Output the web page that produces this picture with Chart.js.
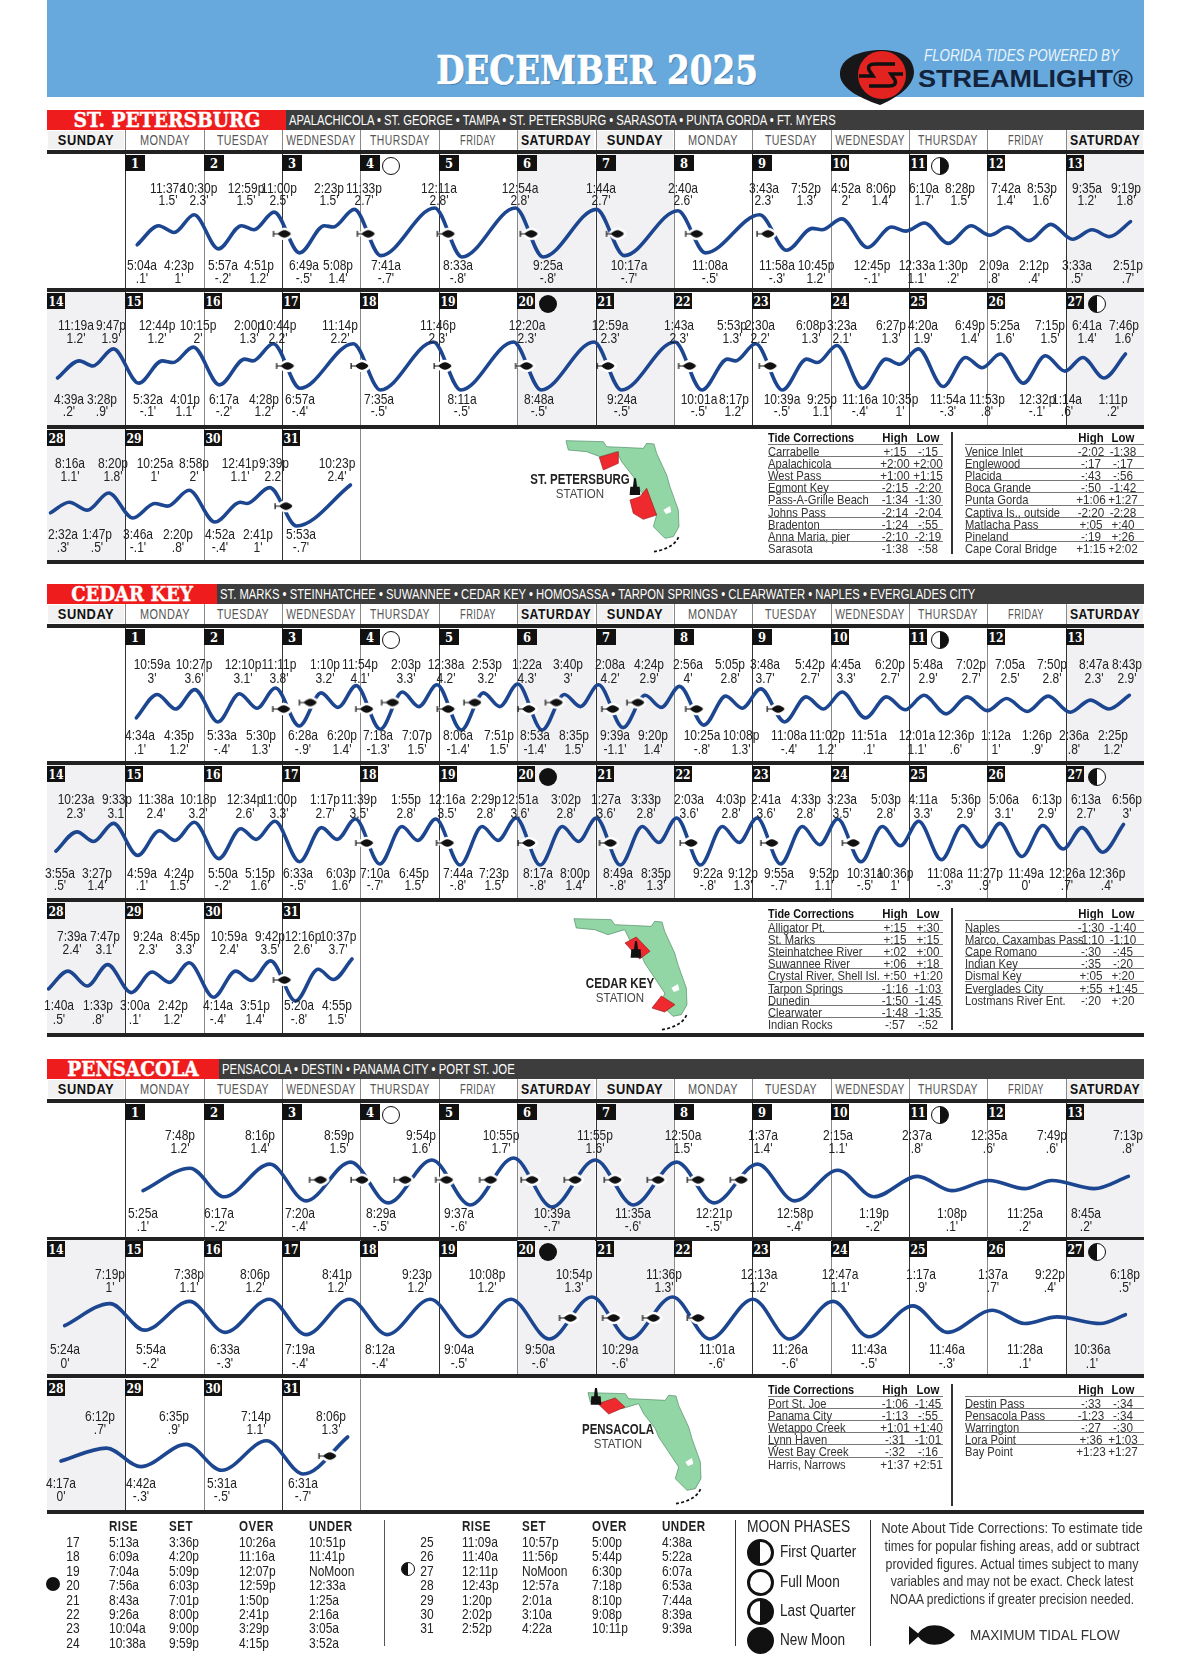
<!DOCTYPE html>
<html>
<head>
<meta charset="utf-8">
<title>Florida Tides December 2025</title>
<script src="https://cdn.jsdelivr.net/npm/chart.js@4/dist/chart.umd.min.js"></script>
<style>
html, body { margin: 0; padding: 0; background: #fff; }
#page { position: relative; width: 1200px; height: 1662px; overflow: hidden; background: #fff; }
#page div.t { position: absolute; white-space: nowrap; line-height: 1; color: #222; }
#page div.r { position: absolute; }
#page canvas { position: absolute; }
#page svg { position: absolute; left: 0; top: 0; }
</style>
</head>
<body>
<div id="page"></div>
<script>
// tide tables: day, time, height in feet
const stPeteDays = [1,1,1,1, 2,2,2,2, 3,3,3,3, 4, 5,5, 6,6, 7,7, 8,8, 9,9,9,9, 10,10,10, 11,11,11,11, 12,12,12,12, 13,13,13,13,
  14,14,14,14, 15,15,15,15, 16,16,16,16, 17,17, 18,18, 19, 20,20, 21,21, 22,22,22,22, 23,23,23,23, 24,24,24,24, 25,25,25,25, 26,26,26, 27,27,27,27,
  28,28,28,28, 29,29,29,29, 30,30,30,30, 31,31];
const stPeteTimes = ['5:04a','11:37a','4:23p','10:30p', '5:57a','12:59p','4:51p','11:00p', '6:49a','2:23p','5:08p','11:33p', '7:41a', '12:11a','8:33a', '12:54a','9:25a', '1:44a','10:17a', '2:40a','11:08a', '3:43a','11:58a','7:52p','10:45p', '4:52a','12:45p','8:06p', '12:33a','6:10a','1:30p','8:28p', '2:09a','7:42a','2:12p','8:53p', '3:33a','9:35a','2:51p','9:19p',
  '4:39a','11:19a','3:28p','9:47p', '5:32a','12:44p','4:01p','10:15p', '6:17a','2:00p','4:28p','10:44p', '6:57a','11:14p', '7:35a','11:46p', '8:11a', '12:20a','8:48a', '12:59a','9:24a', '1:43a','10:01a','5:53p','8:17p', '2:30a','10:39a','6:08p','9:25p', '3:23a','11:16a','6:27p','10:35p', '4:20a','11:54a','6:49p','11:53p', '5:25a','12:32p','7:15p', '1:14a','6:41a','1:11p','7:46p',
  '2:32a','8:16a','1:47p','8:20p', '3:46a','10:25a','2:20p','8:58p', '4:52a','12:41p','2:41p','9:39p', '5:53a','10:23p'];
const stPeteFeet = [.1,1.5,1,2.3, -.2,1.5,1.2,2.5, -.5,1.5,1.4,2.7, -.7, 2.8,-.8, 2.8,-.8, 2.7,-.7, 2.6,-.5, 2.3,-.3,1.3,1.2, 2,-.1,1.4, 1.1,1.7,.2,1.5, .8,1.4,.4,1.6, .5,1.2,.7,1.8,
  .2,1.2,.9,1.9, -.1,1.2,1.1,2, -.2,1.3,1.2,2.2, -.4,2.2, -.5,2.3, -.5, 2.3,-.5, 2.3,-.5, 2.3,-.5,1.3,1.2, 2.2,-.5,1.3,1.1, 2.1,-.4,1.3,1, 1.9,-.3,1.4,.8, 1.6,-.1,1.5, .6,1.4,.2,1.6,
  .3,1.1,.5,1.8, -.1,1,.8,2, -.4,1.1,1,2.2, -.7,2.4];
const stPeteFishDays = [3.03,4.1,5.12,6.18,7.28,8.29,9.2, 17.07,18.02,19.08,20.12,21.16,22.2,23.23, 31.05];
const stPeteFishFeet = [.9,.9,.9,.9,.9,.9,.9, .9,.9,.9,.9,.9,.9,.9, .8];

const cedarDays = [1,1,1,1, 2,2,2,2, 3,3,3,3, 4,4,4, 5,5,5,5, 6,6,6,6, 7,7,7,7, 8,8,8,8, 9,9,9,9, 10,10,10, 11,11,11,11, 12,12,12,12, 13,13,13,13,
  14,14,14,14, 15,15,15,15, 16,16,16,16, 17,17,17,17, 18,18,18, 19,19,19,19, 20,20,20,20, 21,21,21,21, 22,22,22,22, 23,23,23,23, 24,24,24,24, 25,25,25,25, 26,26,26, 27,27,27,27,
  28,28,28,28, 29,29,29,29, 30,30,30,30, 31,31,31,31];
const cedarTimes = ['4:34a','10:59a','4:35p','10:27p', '5:33a','12:10p','5:30p','11:11p', '6:28a','1:10p','6:20p','11:54p', '7:18a','2:03p','7:07p', '12:38a','8:06a','2:53p','7:51p', '1:22a','8:53a','3:40p','8:35p', '2:08a','9:39a','4:24p','9:20p', '2:56a','10:25a','5:05p','10:08p', '3:48a','11:08a','5:42p','11:02p', '4:45a','11:51a','6:20p', '12:01a','5:48a','12:36p','7:02p', '1:12a','7:05a','1:26p','7:50p', '2:36a','8:47a','2:25p','8:43p',
  '3:55a','10:23a','3:27p','9:33p', '4:59a','11:38a','4:24p','10:18p', '5:50a','12:34p','5:15p','11:00p', '6:33a','1:17p','6:03p','11:39p', '7:10a','1:55p','6:45p', '12:16a','7:44a','2:29p','7:23p', '12:51a','8:17a','3:02p','8:00p', '1:27a','8:49a','3:33p','8:35p', '2:03a','9:22a','4:03p','9:12p', '2:41a','9:55a','4:33p','9:52p', '3:23a','10:31a','5:03p','10:36p', '4:11a','11:08a','5:36p','11:27p', '5:06a','11:49a','6:13p', '12:26a','6:13a','12:36p','6:56p',
  '1:40a','7:39a','1:33p','7:47p', '3:00a','9:24a','2:42p','8:45p', '4:14a','10:59a','3:51p','9:42p', '5:20a','12:16p','4:55p','10:37p'];
const cedarFeet = [.1,3,1.2,3.6, -.4,3.1,1.3,3.8, -.9,3.2,1.4,4.1, -1.3,3.3,1.5, 4.2,-1.4,3.2,1.5, 4.3,-1.4,3,1.5, 4.2,-1.1,2.9,1.4, 4,-.8,2.8,1.3, 3.7,-.4,2.7,1.2, 3.3,.1,2.7, 1.1,2.9,.6,2.7, 1,2.5,.9,2.8, .8,2.3,1.2,2.9,
  .5,2.3,1.4,3.1, .1,2.4,1.5,3.2, -.2,2.6,1.6,3.3, -.5,2.7,1.6,3.5, -.7,2.8,1.5, 3.5,-.8,2.8,1.5, 3.6,-.8,2.8,1.4, 3.6,-.8,2.8,1.3, 3.6,-.8,2.8,1.3, 3.6,-.7,2.8,1.1, 3.5,-.5,2.8,1, 3.3,-.3,2.9,.9, 3.1,0,2.9, .7,2.7,.4,3,
  .5,2.4,.8,3.1, .1,2.3,1.2,3.3, -.4,2.4,1.4,3.5, -.8,2.6,1.5,3.7];
const cedarFishDays = [3.02,3.36,4.08,4.41,5.12,5.46,6.15,6.5,7.22,7.54,8.29,9.33, 18.08,19.11,20.15,21.19,22.22,23.25,24.29, 31.03];
const cedarFishFeet = [1.2,2,1.2,2,1.2,2,1.2,2,1.2,2,1.2,1.2, 1.26,1.26,1.26,1.26,1.26,1.26,1.26, 1.45];

const pensacolaDays = [1,1, 2,2, 3,3, 4,4, 5,5, 6,6, 7, 8,8, 9,9, 10,10, 11,11, 12,12,12, 13,13,
  14,14, 15,15, 16,16, 17,17, 18,18, 19,19, 20,20, 21,21, 22, 23,23, 24,24, 25,25, 26,26,26, 27,27,
  28,28, 29,29, 30,30, 31,31];
const pensacolaTimes = ['5:25a','7:48p', '6:17a','8:16p', '7:20a','8:59p', '8:29a','9:54p', '9:37a','10:55p', '10:39a','11:55p', '11:35a', '12:50a','12:21p', '1:37a','12:58p', '2:15a','1:19p', '2:37a','1:08p', '12:35a','11:25a','7:49p', '8:45a','7:13p',
  '5:24a','7:19p', '5:54a','7:38p', '6:33a','8:06p', '7:19a','8:41p', '8:12a','9:23p', '9:04a','10:08p', '9:50a','10:54p', '10:29a','11:36p', '11:01a', '12:13a','11:26a', '12:47a','11:43a', '1:17a','11:46a', '1:37a','11:28a','9:22p', '10:36a','6:18p',
  '4:17a','6:12p', '4:42a','6:35p', '5:31a','7:14p', '6:31a','8:06p'];
const pensacolaFeet = [.1,1.2, -.2,1.4, -.4,1.5, -.5,1.6, -.6,1.7, -.7,1.6, -.6, 1.5,-.5, 1.4,-.4, 1.1,-.2, .8,.1, .6,.2,.6, .2,.8,
  0,1, -.2,1.1, -.3,1.2, -.4,1.2, -.4,1.2, -.5,1.2, -.6,1.3, -.6,1.3, -.6, 1.2,-.6, 1.1,-.5, .9,-.3, .7,.1,.4, .1,.5,
  0,.7, -.3,.9, -.5,1.1, -.7,1.3];
const pensacolaFishDays = [3.49,4.02,4.57,5.1,5.66,6.19,6.74,7.25,7.8,8.31,8.86, 20.68,21.23,21.74,22.31, 31.61];
const pensacolaFishFeet = [.63,.63,.63,.63,.63,.63,.63,.63,.63,.63,.63, .35,.35,.35,.35, .27];

// tide corrections
const stPeteLeftPlaces = ['Carrabelle','Apalachicola','West Pass','Egmont Key','Pass-A-Grille Beach','Johns Pass','Bradenton','Anna Maria, pier','Sarasota'];
const stPeteLeftHigh = ['+:15','+2:00','+1:00','-2:15','-1:34','-2:14','-1:24','-2:10','-1:38'];
const stPeteLeftLow = ['-:15','+2:00','+1:15','-2:20','-1:30','-2:04','-:55','-2:19','-:58'];
const stPeteRightPlaces = ['Venice Inlet','Englewood','Placida','Boca Grande','Punta Gorda','Captiva Is., outside','Matlacha Pass','Pineland','Cape Coral Bridge'];
const stPeteRightHigh = ['-2:02','-:17','-:43','-:50','+1:06','-2:20','+:05','-:19','+1:15'];
const stPeteRightLow = ['-1:38','-:17','-:56','-1:42','+1:27','-2:28','+:40','+:26','+2:02'];
const cedarLeftPlaces = ['Alligator Pt.','St. Marks','Steinhatchee River','Suwannee River','Crystal River, Shell Isl.','Tarpon Springs','Dunedin','Clearwater','Indian Rocks'];
const cedarLeftHigh = ['+:15','+:15','+:02','+:06','+:50','-1:16','-1:50','-1:48','-:57'];
const cedarLeftLow = ['+:30','+:15','+:00','+:18','+1:20','-1:03','-1:45','-1:35','-:52'];
const cedarRightPlaces = ['Naples','Marco, Caxambas Pass','Cape Romano','Indian Key','Dismal Key','Everglades City','Lostmans River Ent.'];
const cedarRightHigh = ['-1:30','-1:10','-:30','-:35','+:05','+:55','-:20'];
const cedarRightLow = ['-1:40','-1:10','-:45','-:20','+:20','+1:45','+:20'];
const pensacolaLeftPlaces = ['Port St. Joe','Panama City','Wetappo Creek','Lynn Haven','West Bay Creek','Harris, Narrows'];
const pensacolaLeftHigh = ['-1:06','-1:13','+1:01','-:31','-:32','+1:37'];
const pensacolaLeftLow = ['-1:45','-:55','+1:40','-1:01','-:16','+2:51'];
const pensacolaRightPlaces = ['Destin Pass','Pensacola Pass','Warrington','Lora Point','Bay Point'];
const pensacolaRightHigh = ['-:33','-1:23','-:27','+:36','+1:23'];
const pensacolaRightLow = ['-:34','-:34','-:30','+1:03','+1:27'];

// moon table
const moonDays = [17,18,19,20,21,22,23,24, 25,26,27,28,29,30,31];
const moonRise = ['5:13a','6:09a','7:04a','7:56a','8:43a','9:26a','10:04a','10:38a', '11:09a','11:40a','12:11p','12:43p','1:20p','2:02p','2:52p'];
const moonSet = ['3:36p','4:20p','5:09p','6:03p','7:01p','8:00p','9:00p','9:59p', '10:57p','11:56p','NoMoon','12:57a','2:01a','3:10a','4:22a'];
const moonOver = ['10:26a','11:16a','12:07p','12:59p','1:50p','2:41p','3:29p','4:15p', '5:00p','5:44p','6:30p','7:18p','8:10p','9:08p','10:11p'];
const moonUnder = ['10:51p','11:41p','NoMoon','12:33a','1:25a','2:16a','3:05a','3:52a', '4:38a','5:22a','6:07a','6:53a','7:44a','8:39a','9:39a'];
const weekNames = ['SUNDAY','MONDAY','TUESDAY','WEDNESDAY','THURSDAY','FRIDAY','SATURDAY'];
const noteLines = ['Note About Tide Corrections: To estimate tide','times for popular fishing areas, add or subtract','provided figures. Actual times subject to many','variables and may not be exact. Check latest','NOAA predictions if greater precision needed.'];

// layout
const LEFT = 47, RIGHT = 1144, COL = (RIGHT - LEFT) / 14;
const SANS = '"Liberation Sans",sans-serif';
const SLAB = '"DejaVu Serif",serif';
const page = document.getElementById('page');

function rect(x, y, w, h, color) {
  const d = document.createElement('div');
  d.className = 'r';
  d.style.cssText = 'left:' + x + 'px;top:' + y + 'px;width:' + w + 'px;height:' + h + 'px;background:' + color;
  page.appendChild(d);
  return d;
}

// text centred on y; align is left / center / right around x; fit squeezes to a width
function text(str, x, y, o) {
  o = o || {};
  const d = document.createElement('div');
  d.className = 't';
  d.textContent = str;
  d.style.left = x + 'px';
  d.style.top = y + 'px';
  d.style.fontFamily = o.font || SANS;
  d.style.fontSize = (o.size || 14) + 'px';
  if (o.bold) d.style.fontWeight = 'bold';
  if (o.italic) d.style.fontStyle = 'italic';
  if (o.color) d.style.color = o.color;
  if (o.spacing) d.style.letterSpacing = o.spacing + 'px';
  if (o.shadow) d.style.textShadow = o.shadow;
  if (o.stroke) d.style.webkitTextStroke = o.stroke;
  page.appendChild(d);
  const align = o.align || 'left';
  const dx = align === 'center' ? '-50%' : align === 'right' ? '-100%' : '0';
  let sx = o.squeeze || 0.8;
  if (o.fit) sx = o.fit / d.offsetWidth;
  d.style.transformOrigin = align + ' center';
  d.style.transform = 'translate(' + dx + ',-50%) scaleX(' + sx + ')';
  return d;
}

function moon(kind, cx, cy, dia, border) {
  const d = rect(cx - dia / 2, cy - dia / 2, dia, dia, '#fff');
  d.style.boxSizing = 'border-box';
  d.style.border = border + 'px solid #111';
  d.style.borderRadius = '50%';
  if (kind === 'new') d.style.background = '#111';
  if (kind === 'first') d.style.background = 'linear-gradient(90deg,#111 50%,#fff 50%)';
  if (kind === 'last') d.style.background = 'linear-gradient(90deg,#fff 50%,#111 50%)';
}

function hoursOf(t) {
  const m = t.match(/(\d+):(\d+)([ap])/);
  return (+m[1] % 12) + (m[3] === 'p' ? 12 : 0) + (+m[2]) / 60;
}

function feetLabel(v) {
  if (v === 0) return "0'";
  const s = String(Math.abs(v)).replace(/^0/, '');
  return (v < 0 ? '-' : '') + s + "'";
}

// fish marker for the points of maximum flow, body centred on the point
function fishMarker() {
  const c = document.createElement('canvas');
  c.width = 34; c.height = 16;
  const g = c.getContext('2d');
  const body = function() {
    g.beginPath();
    g.moveTo(10.5, 8);
    g.quadraticCurveTo(17, 0.5, 23.5, 8);
    g.quadraticCurveTo(17, 15.5, 10.5, 8);
    g.closePath();
  };
  g.strokeStyle = '#fff'; g.lineWidth = 5; g.lineJoin = 'round';
  body(); g.stroke();
  g.fillStyle = '#111';
  body(); g.fill();
  g.fillRect(6, 7.5, 6, 1);
  g.fillRect(5.5, 5, 1.2, 6);
  return c;
}
const fishImage = fishMarker();

// lead: the printed curve runs slightly ahead of its printed times (fraction of a day)
function tideChart(row, first, days, times, feet, fishDays, fishFeet, lead) {
  const last = first + 14;
  const pts = [];
  days.forEach(function(d, i) {
    if (d >= first && d < last) pts.push({ x: d + hoursOf(times[i]) / 24 - lead, y: feet[i] });
  });
  const fish = [];
  fishDays.forEach(function(d, i) {
    if (d >= first && d < last) fish.push({ x: d, y: fishFeet[i] });
  });
  const ys = pts.map(function(p) { return p.y; });
  const c = document.createElement('canvas');
  c.width = RIGHT - LEFT;
  c.height = row.h;
  c.style.left = LEFT + 'px';
  c.style.top = row.top + 'px';
  page.appendChild(c);
  new Chart(c, {
    type: 'scatter',
    data: {
      datasets: [
        { data: fish, pointStyle: fishImage, pointRadius: 6, showLine: false, order: 0, clip: false },
        { data: pts, showLine: true, borderColor: '#1d4690', borderWidth: 3.6, pointRadius: 0,
          cubicInterpolationMode: 'monotone', borderCapStyle: 'round', order: 1, clip: false }
      ]
    },
    options: {
      responsive: false,
      animation: false,
      layout: { autoPadding: false, padding: { top: row.curve[0], bottom: row.h - row.curve[1], left: 0, right: 0 } },
      plugins: { legend: { display: false }, tooltip: { enabled: false } },
      scales: {
        x: { type: 'linear', min: first, max: last, display: false },
        y: { min: Math.min.apply(null, ys), max: Math.max.apply(null, ys), display: false }
      }
    }
  });
}

const moonOnDay = { 4: 'full', 11: 'last', 20: 'new', 27: 'first' };
// hand nudges (px) where the printed label does not sit on its tide time
const labelNudge = {
  's111:37a':5, 's311:33p':5, 's58:33a':-9, 's911:58a':-14, 's910:45p':-10, 's97:52p':-11, 's108:06p':-15,
  's1112:33a':6, 's118:28p':-16, 's127:42a':-6, 's128:53p':-13, 's139:35a':-10, 's132:51p':14, 's139:19p':-9, 's116:10a':-5,
  's1411:19a':-8, 's149:47p':-7, 's1512:44p':-10, 's144:39a':7, 's143:28p':5, 's155:32a':5, 's154:01p':7, 's164:28p':7,
  's176:57a':-5, 's1711:14p':-18, 's187:35a':-6, 's198:11a':-4, 's2012:20a':9, 's208:48a':-7, 's2112:59a':11, 's219:24a':-4,
  's2210:01a':-8, 's228:17p':-6, 's2310:39a':-5, 's2411:16a':-7, 's2410:35p':-4, 's2612:32p':9, 's271:14a':-3, 's271:11p':4, 's277:46p':-6,
  's288:16a':-4, 's282:32a':8, 's281:47p':5, 's2910:25a':-4, 's292:20p':6, 's3012:41p':-5, 's302:41p':6, 's3110:23p':-18,
  'c110:59a':-9, 'c110:27p':-5, 'c47:18a':-6, 'c47:07p':-6, 'c512:38a':5, 'c58:06a':-7, 'c57:51p':-5, 'c61:22a':5, 'c68:53a':-11, 'c68:35p':-10,
  'c72:08a':8, 'c79:39a':-12, 'c79:20p':-12, 'c82:56a':5, 'c810:25a':-6, 'c810:08p':-5, 'c1112:01a':8, 'c1112:36p':6, 'c121:12a':5, 'c121:26p':6, 'c138:43p':-6,
  'c1410:23a':-5, 'c1511:38a':-7, 'c176:33a':-5, 'c187:10a':-9, 'c186:45p':-8, 'c1912:16a':7, 'c197:44a':-6, 'c197:23p':-8, 'c208:17a':-6, 'c208:00p':-7,
  'c211:27a':6, 'c218:49a':-6, 'c218:35p':-7, 'c222:03a':8, 'c224:03p':5, 'c229:22a':4, 'c232:41a':5, 'c239:55a':-6, 'c2410:36p':-9,
  'c287:47p':-7, 'c281:40a':7, 'c281:33p':7, 'c299:24a':-8, 'c298:45p':-8, 'c3010:59a':-11, 'c309:42p':-5, 'c3112:16p':-19, 'c3110:37p':-18,
  'p17:48p':-10, 'p28:16p':-10, 'p26:17a':-5, 'p38:59p':-12, 'p37:20a':-6, 'p49:54p':-11, 'p48:29a':-7, 'p510:55p':-13, 'p59:37a':-11, 'p812:50a':6, 'p91:37a':6,
  'p138:45a':-8, 'p168:06p':-14, 'p178:41p':-13, 'p155:54a':6, 'p177:19a':-6, 'p188:12a':-7, 'p189:23p':-13, 'p199:04a':-9, 'p1910:08p':-24,
  'p209:50a':-9, 'p2010:54p':-18, 'p2110:29a':-10, 'p2111:36p':-9, 'p2211:01a':7, 'p2312:13a':6, 'p2412:47a':7, 'p251:17a':8, 'p269:22p':-7, 'p2710:36a':-8,
  'p286:12p':-6, 'p296:35p':-12, 'p307:14p':-11, 'p318:06p':-17
};

function section(s) {
  const top = s.rows[0].top - 44;
  rect(LEFT, top, RIGHT - LEFT, 20, '#3d3d3d');
  rect(LEFT, top, s.redW, 20, '#ee1c1c');
  text(s.name, LEFT + s.redW / 2, top + 10, { font: SLAB, bold: true, size: 20, color: '#fff', align: 'center', fit: s.nameW, stroke: '.4px #fff' });
  text(s.cities, LEFT + s.redW + 3, top + 10, { size: 14, color: '#fff', fit: s.citiesW });
  // day names
  for (let i = 0; i < 14; i++) {
    const x = LEFT + i * COL;
    const wk = i % 7;
    const weekend = wk === 0 || wk === 6;
    if (weekend) rect(x + 1, top + 21, COL - 2, 18, '#f1f1f1');
    text(weekNames[wk], x + COL / 2, top + 30, { size: 14, bold: weekend, color: weekend ? '#111' : '#555', align: 'center', fit: wk === 0 ? 56 : wk === 6 ? 70 : (wk === 3 ? 70 : wk === 4 ? 60 : wk === 2 ? 52 : wk === 1 ? 50 : 36), spacing: .6 });
    if (i) rect(x, top + 20, 1, 20, '#888');
  }
  rect(LEFT, top + 40, RIGHT - LEFT, 4, '#222');

  s.rows.forEach(function(row, r) {
    const first = r * 14;
    const lastDay = r === 2 ? 31 : first + 13;
    // weekend shading and day lines
    for (let i = 0; i < 14; i++) {
      const d = first + i;
      if (d > lastDay || d === 0) continue;
      const x = LEFT + i * COL;
      if (i === 0 || i === 6 || i === 7 || i === 13) rect(x, row.top, COL, row.h, '#f1f1f3');
    }
    const lines = r === 2 ? 5 : 14;
    for (let i = 1; i < lines; i++) rect(LEFT + i * COL, row.top, 1, row.h, i % 2 ? '#333' : '#888');
    rect(LEFT, row.top + row.h, RIGHT - LEFT, 4, '#222');
    // day boxes and moons
    for (let d = Math.max(first, 1); d <= lastDay; d++) {
      const x = LEFT + (d - first) * COL;
      const w = d < 10 ? 20 : 18;
      rect(x, row.top + 1, w, 16, '#111');
      text(String(d), x + w / 2, row.top + 9, { font: SLAB, bold: true, size: 13, color: '#fff', align: 'center', fit: d < 10 ? 8 : 15 });
      if (moonOnDay[d]) moon(moonOnDay[d], x + 31, row.top + 12, 18, moonOnDay[d] === 'new' ? 0 : 1);
    }
    tideChart(row, first, s.days, s.times, s.feet, s.fishDays, s.fishFeet, s.lead);
    // high and low labels
    s.days.forEach(function(d, i) {
      if (d < first || d >= first + 14) return;
      const next = i + 1 < s.feet.length ? s.feet[i + 1] : null;
      const high = next === null ? s.feet[i] > s.feet[i - 1] : s.feet[i] > next;
      const nudge = labelNudge[s.key + d + s.times[i]] || 0;
      const x = LEFT + (d - first + hoursOf(s.times[i]) / 24) * COL + nudge;
      const ys = high ? row.labels.slice(0, 2) : row.labels.slice(2);
      text(s.times[i], x, row.top + ys[0], { size: 15, align: 'center' });
      text(feetLabel(s.feet[i]), x, row.top + ys[1], { size: 15, align: 'center' });
    });
  });

  // corrections tables
  const third = s.rows[2];
  const y0 = third.top + s.tableTop;
  const table = function(nameX, highX, lowX, lineX, lineW, names, high, low, title) {
    if (title) text(title, nameX, y0, { bold: true, size: 12, color: '#111', fit: 86 });
    text('High', highX, y0, { bold: true, size: 12, color: '#111', align: 'center', squeeze: .95 });
    text('Low', lowX, y0, { bold: true, size: 12, color: '#111', align: 'center', squeeze: .95 });
    names.forEach(function(n, i) {
      const y = y0 + 13 + i * 12.1;
      rect(lineX, y - 7, lineW, 1, '#777');
      text(n, nameX, y, { size: 13, color: '#333', squeeze: .86 });
      text(high[i], highX, y, { size: 13, color: '#333', align: 'center', squeeze: .9 });
      text(low[i], lowX, y, { size: 13, color: '#333', align: 'center', squeeze: .9 });
    });
  };
  table(768, 895, 928, 768, 175, s.leftPlaces, s.leftHigh, s.leftLow, 'Tide Corrections');
  table(965, 1091, 1123, 965, 179, s.rightPlaces, s.rightHigh, s.rightLow, '');
  rect(951, y0 - 6, 1.5, 122, '#333');
}

// page header
rect(LEFT, 0, RIGHT - LEFT, 97, '#67a9dc');
text('DECEMBER 2025', 597, 70, { font: SLAB, bold: true, size: 40, color: '#fff', align: 'center', fit: 322, shadow: '1px 1px 1px #2f6fa5', stroke: '.7px #fff' });
text('FLORIDA TIDES POWERED BY', 924, 55, { size: 17, italic: true, color: '#eaf4fb', fit: 195 });
text('STREAMLIGHT®', 918, 79, { bold: true, size: 24, color: '#13233c', fit: 215 });

section({
  key: 's', name: 'ST. PETERSBURG', nameW: 187, redW: 239, citiesW: 547, tableTop: 9, lead: .06,
  cities: 'APALACHICOLA • ST. GEORGE • TAMPA • ST. PETERSBURG • SARASOTA • PUNTA GORDA • FT. MYERS',
  rows: [
    { top: 154, h: 134, curve: [54, 103], labels: [33, 45, 110, 123] },
    { top: 292, h: 133, curve: [50, 98], labels: [32, 45, 106, 118] },
    { top: 429, h: 131, curve: [56, 97], labels: [33, 46, 104, 117] }
  ],
  days: stPeteDays, times: stPeteTimes, feet: stPeteFeet, fishDays: stPeteFishDays, fishFeet: stPeteFishFeet,
  leftPlaces: stPeteLeftPlaces, leftHigh: stPeteLeftHigh, leftLow: stPeteLeftLow,
  rightPlaces: stPeteRightPlaces, rightHigh: stPeteRightHigh, rightLow: stPeteRightLow
});
section({
  key: 'c', name: 'CEDAR KEY', nameW: 122, redW: 170, citiesW: 755, tableTop: 12, lead: .05,
  cities: 'ST. MARKS • STEINHATCHEE • SUWANNEE • CEDAR KEY • HOMOSASSA • TARPON SPRINGS • CLEARWATER • NAPLES • EVERGLADES CITY',
  rows: [
    { top: 628, h: 133, curve: [56, 102], labels: [35, 49, 106, 120] },
    { top: 765, h: 133, curve: [53, 100], labels: [33, 47, 107, 119] },
    { top: 902, h: 131, curve: [57, 99], labels: [33, 46, 102, 116] }
  ],
  days: cedarDays, times: cedarTimes, feet: cedarFeet, fishDays: cedarFishDays, fishFeet: cedarFishFeet,
  leftPlaces: cedarLeftPlaces, leftHigh: cedarLeftHigh, leftLow: cedarLeftLow,
  rightPlaces: cedarRightPlaces, rightHigh: cedarRightHigh, rightLow: cedarRightLow
});
section({
  key: 'p', name: 'PENSACOLA', nameW: 131, redW: 172, citiesW: 293, tableTop: 11, lead: 0,
  cities: 'PENSACOLA • DESTIN • PANAMA CITY • PORT ST. JOE',
  rows: [
    { top: 1103, h: 134, curve: [55, 104], labels: [31, 44, 109, 122] },
    { top: 1240, h: 134, curve: [57, 99], labels: [33, 46, 108, 122] },
    { top: 1379, h: 131, curve: [58, 95], labels: [36, 49, 103, 116] }
  ],
  days: pensacolaDays, times: pensacolaTimes, feet: pensacolaFeet, fishDays: pensacolaFishDays, fishFeet: pensacolaFishFeet,
  leftPlaces: pensacolaLeftPlaces, leftHigh: pensacolaLeftHigh, leftLow: pensacolaLeftLow,
  rightPlaces: pensacolaRightPlaces, rightHigh: pensacolaRightHigh, rightLow: pensacolaRightLow
});

// maps and logo
const florida = '198,62 310,65 320,80 430,85 440,70 462,72 470,100 500,165 510,200 535,270 537,320 520,350 495,355 460,320 470,285 440,240 410,195 400,170 365,125 350,95 300,110 260,95 205,90';
function lighthouse(x, y) {
  return '<polygon fill="#111" points="' + [x - 3, y - 30, x + 3, y - 30, x + 6, y - 5, x + 14, y - 5, x + 16, y + 20, x - 16, y + 20, x - 14, y - 5, x - 6, y - 5].join(',') + '"/>';
}
function flMap(tx, ty, reds, lx, ly) {
  let h = '<g transform="translate(' + tx + ',' + ty + ') scale(0.3333)">';
  h += '<polygon points="' + florida + '" fill="#93d6a6" stroke="#4d8a63" stroke-width="2"/>';
  h += '<polygon points="490,270 510,258 514,276 498,282" fill="#fff"/>';
  reds.forEach(function(p) { h += '<polygon points="' + p + '" fill="#ee2a2f" stroke="#9d1a1a" stroke-width="2"/>'; });
  h += lighthouse(lx, ly);
  h += '<path d="M462,395 C490,390 525,380 537,348" fill="none" stroke="#111" stroke-width="5" stroke-dasharray="9 7"/>';
  return h + '</g>';
}
const svg = '<svg width="1200" height="1662" xmlns="http://www.w3.org/2000/svg">' +
  // logo
  '<path d="M840,72 C842,54 868,50 880,50 C900,50 913,56 914,72 C914,88 892,100 880,105 C866,100 838,90 840,72 Z" fill="#17171a"/>' +
  '<circle cx="882" cy="75" r="24" fill="#e3231f"/>' +
  '<path d="M895,64 h-20 q-8,0 -6,6 l4,6 h-14 M869,86 h20 q8,0 6,-6 l-4,-6 h12" stroke="#111" stroke-width="3.5" fill="none"/>' +
  flMap(500, 420, ['298,112 355,95 355,130 310,150', '390,240 420,230 440,205 470,285 430,298 400,280'], 405, 205) +
  flMap(508, 898, ['351,135 385,117 426,160 395,183', '432,330 460,294 501,320 470,342'], 384, 159) +
  flMap(522, 1372, ['228,95 280,78 309,105 260,126'], 222, 78) +
  // legend fish
  '<path d="M909,1626 L920,1635 L909,1645 Z M917,1635 C925,1622 943,1622 955,1635 C943,1648 925,1648 917,1635 Z" fill="#111"/>' +
  '</svg>';
page.insertAdjacentHTML('beforeend', svg);

text('ST. PETERSBURG', 580, 479, { size: 14, bold: true, color: '#222', align: 'center', fit: 99 });
text('STATION', 580, 493, { size: 13, color: '#444', align: 'center', fit: 48 });
text('CEDAR KEY', 620, 983, { size: 14, bold: true, color: '#222', align: 'center', fit: 68 });
text('STATION', 620, 997, { size: 13, color: '#444', align: 'center', fit: 48 });
text('PENSACOLA', 618, 1429, { size: 14, bold: true, color: '#222', align: 'center', fit: 72 });
text('STATION', 618, 1443, { size: 13, color: '#444', align: 'center', fit: 48 });

// moon table
function moonTable(from, to, dayX, riseX, setX, overX, underX) {
  ['RISE', 'SET', 'OVER', 'UNDER'].forEach(function(h, i) {
    text(h, [riseX, setX, overX, underX][i], 1526, { size: 14.5, bold: true, color: '#222', spacing: .6 });
  });
  for (let i = from; i < to; i++) {
    const y = 1541 + (i - from) * 14.4;
    text(String(moonDays[i]), dayX, y, { size: 15, align: 'center' });
    text(moonRise[i], riseX, y, { size: 15 });
    text(moonSet[i], setX, y, { size: 15 });
    text(moonOver[i], overX, y, { size: 15 });
    text(moonUnder[i], underX, y, { size: 15 });
  }
}
moonTable(0, 8, 73, 109, 169, 239, 309);
moonTable(8, 15, 427, 462, 522, 592, 662);
moon('new', 53, 1584, 14, 0);
moon('first', 408, 1569, 14, 1);
rect(384, 1520, 1, 126, '#555');
rect(735, 1520, 1, 126, '#333');
rect(870, 1520, 1, 126, '#333');

text('MOON PHASES', 747, 1527, { size: 16, color: '#222', fit: 103 });
['First Quarter', 'Full Moon', 'Last Quarter', 'New Moon'].forEach(function(n, i) {
  const y = [1552, 1582, 1611, 1640][i];
  moon(['first', 'full', 'last', 'new'][i], 760, y, 27, 3);
  text(n, 780, y, { size: 16, color: '#222', squeeze: .85 });
});
[262, 255, 253, 243, 244].forEach(function(w, i) {
  text(noteLines[i], 1012, 1528 + i * 17.8, { size: 14.5, color: '#333', align: 'center', fit: w });
});
text('MAXIMUM TIDAL FLOW', 970, 1634, { size: 15, color: '#333', fit: 150 });
</script>
</body>
</html>
